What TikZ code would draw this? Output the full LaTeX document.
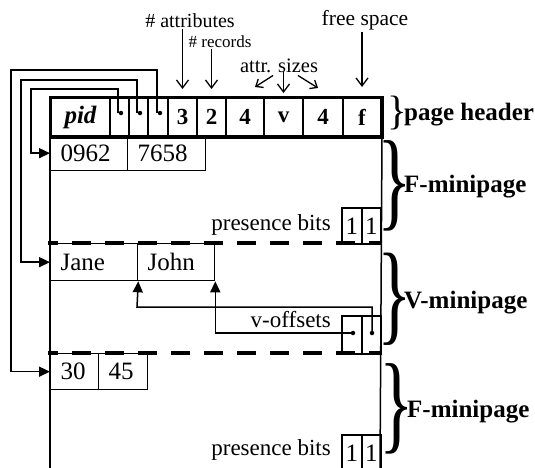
\documentclass[tikz,border=0pt]{standalone}
\usepackage{fontspec}
\setmainfont{Liberation Serif}
\usetikzlibrary{arrows.meta,calc}
\newcommand\myfs[1]{\fontsize{#1}{#1}\selectfont}
\begin{document}
\begin{tikzpicture}[x=1pt,y=-1pt,
  hcell/.style={draw, line width=2pt, inner sep=0, minimum height=38pt, anchor=north west, font=\myfs{23}\bfseries},
  rcell/.style={draw, line width=1.3pt, inner ysep=0, inner xsep=10pt, minimum height=35pt, anchor=north west, align=left, font=\myfs{25}},
  bcell/.style={draw, line width=2pt, inner sep=0, minimum width=19.5pt, minimum height=36pt, anchor=north west, font=\myfs{25}},
  ptr/.style={line width=1.5pt, -{Triangle[length=11pt,width=10pt]}},
  ann/.style={line width=1.3pt, -{Straight Barb[length=8pt,width=12pt]}},
  lab/.style={inner sep=0, anchor=base},
  side/.style={inner sep=0, anchor=west, font=\myfs{25}\bfseries},
  sepline/.style={line width=4.5pt, dash pattern=on 19pt off 14pt, dash phase=9pt},
  ptdot/.style={circle, fill, inner sep=0, minimum size=4.5pt},
  brc/.style={inner sep=0},
]
\useasboundingbox (0,0) rectangle (535,467);

% header
\node[hcell, minimum width=59pt] (pid) at (50,97) {\myfs{25}\itshape pid};
\node[hcell, minimum width=19pt] (h1) at (109,97) {};
\node[hcell, minimum width=19pt] (h2) at (128,97) {};
\node[hcell, minimum width=20pt] (h3) at (147,97) {};
\node[hcell, minimum width=29pt] (na) at (167,97) {3};
\node[hcell, minimum width=29pt] (nr) at (196,97) {2};
\node[hcell, minimum width=38pt] (s1) at (225,97) {4};
\node[hcell, minimum width=39pt] (s2) at (263,97) {v};
\node[hcell, minimum width=40pt] (s3) at (302,97) {4};
\node[hcell, minimum width=38pt] (fsp) at (342,97) {f};
\draw[line width=3pt] (pid.north west) rectangle (fsp.south east);

% body sides
\coordinate (bl) at (50,470);
\coordinate (br) at (380,470);
\draw[line width=1.5pt] (pid.south west) -- (bl);
\draw[line width=1.5pt] (fsp.south east) -- (br);

% F-minipage 1
\node[rcell, text width=57pt] (r1) at (50,135) {0962};
\node[rcell, text width=58pt] (r2) at (127,135) {7658};
\node[bcell] (pa1) at (341,207) {1};
\node[bcell] (pa2) at (360.5,207) {1};
\node[lab, anchor=base east, font=\myfs{23}] (pbl1) at (331,230) {presence bits};
\draw[sepline] (48,243) -- (382,243);

% V-minipage
\node[rcell, text width=67pt, minimum height=37pt] (jane) at (50,243) {Jane};
\node[rcell, text width=57pt, minimum height=37pt] (john) at (137,243) {John};
\node[bcell, minimum height=38pt] (vo1) at (341,315) {};
\node[bcell, minimum height=38pt] (vo2) at (360.5,315) {};
\node[ptdot] (d1) at (353,333) {};
\node[ptdot] (d2) at (372,333) {};
\node[lab, anchor=base east, font=\myfs{23}] (vol) at (331,327) {v-offsets};
\draw[ptr] (d1.center) -| (john.south east);
\draw[ptr] (d2.center) |- (137,307) -- (jane.south east);
\draw[sepline] (48,353) -- (382,353);

% F-minipage 2
\node[rcell, text width=28pt, minimum height=36pt] (n30) at (50,353) {30};
\node[rcell, text width=29pt, minimum height=36pt] (n45) at (98,353) {45};
\node[bcell, minimum height=36pt] (pc1) at (341,434) {1};
\node[bcell, minimum height=36pt] (pc2) at (360.5,434) {1};
\node[lab, anchor=base east, font=\myfs{23}] (pbl2) at (331,455) {presence bits};

% pointers from header
\coordinate (p1) at (118,113);
\coordinate (p2) at (137,113);
\coordinate (p3) at (157,113);
\node[ptdot] (q1) at (121,113) {};
\node[ptdot] (q2) at (140,113) {};
\node[ptdot] (q3) at (160,113) {};
\draw[ptr] (p1) |- (31,89) |- (r1.west);
\draw[ptr] (p2) |- (21,80) |- (jane.west);
\draw[ptr] (p3) |- (11,70) |- (n30.west);

% top annotations
\node[lab, font=\myfs{20}] (tattr) at (190,27) {\# attributes};
\node[lab, font=\myfs{17}] (trec) at (220,47) {\# records};
\node[lab, font=\myfs{20.5}] (tsz) at (279,72) {attr. sizes};
\node[lab, font=\myfs{21.5}] (tfree) at (365,25) {free space};
\draw[ann] ($(tattr.south -| na.north)+(0,2)$) -- ($(na.north)+(0,-8)$);
\draw[ann] ($(trec.south -| nr.north)+(0,2)$) -- ($(nr.north)+(0,-8)$);
\draw[ann] ($(tsz.south -| s2.north)+(0,0)$) -- ($(s2.north)+(0,-4)$);
\draw[ann, -{Straight Barb[length=6pt,width=10pt]}] ($(tsz.south)+(-6,3)$) -- ($(s1.north)+(10,-10)$);
\draw[ann, -{Straight Barb[length=6pt,width=10pt]}] ($(tsz.south)+(19,3)$) -- ($(s3.north)+(-5,-9)$);
\draw[ann] ($(tfree.south -| fsp.north)+(0,2)$) -- ($(fsp.north)+(0,-10)$);

% braces and side labels
\node[brc] (bh) at (397.5,113) {\makebox[10pt]{\scalebox{1}[1.0]{\myfs{41}\}}}};
\node[side] (tph) at (404,115) {page header};
\node[brc] (bf1) at (395,186) {\makebox[16pt]{\scalebox{1}[1.52]{\myfs{72}\}}}};
\node[side] (tf1) at (404,187) {F-minipage};
\node[brc] (bv) at (395,299) {\makebox[16pt]{\scalebox{1}[1.55]{\myfs{72}\}}}};
\node[side] (tv) at (404,303) {V-minipage};
\node[brc] (bf2) at (396.5,409) {\makebox[16pt]{\scalebox{1}[1.52]{\myfs{72}\}}}};
\node[side] (tf2) at (407,412) {F-minipage};
\end{tikzpicture}
\end{document}
